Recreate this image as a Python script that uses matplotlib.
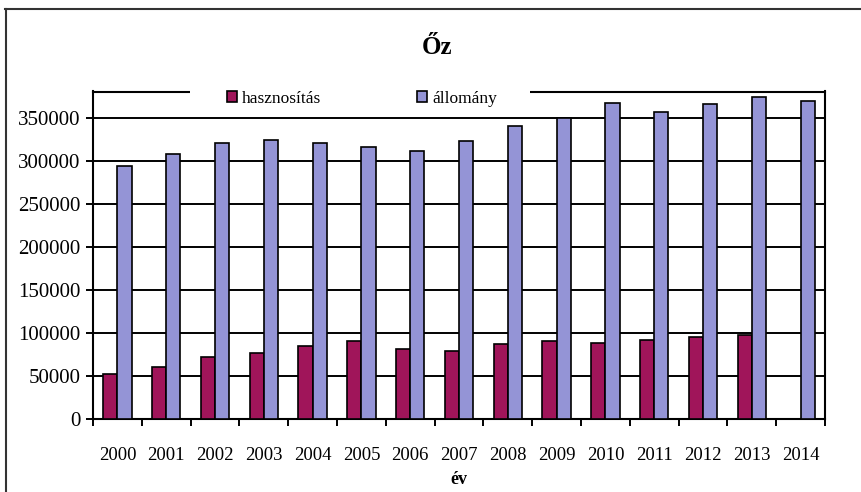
import matplotlib
matplotlib.use("Agg")
import matplotlib.pyplot as plt
import numpy as np
from matplotlib.lines import Line2D
from matplotlib.patches import Rectangle

years = ["2000", "2001", "2002", "2003", "2004", "2005", "2006", "2007",
         "2008", "2009", "2010", "2011", "2012", "2013", "2014"]
hasznositas = [52000, 61000, 72500, 76500, 85000, 90500, 81500, 79500,
               87000, 90500, 88500, 92000, 95500, 98000, None]
allomany = [294000, 308000, 321000, 325000, 321000, 317000, 312000, 323000,
            341000, 350000, 368000, 357000, 366000, 375000, 370000]
yticks = [0, 50000, 100000, 150000, 200000, 250000, 300000, 350000]
series_names = ["hasznosítás", "állomány"]
title = "Őz"
xlabel = "év"

c_h = "#A0155A"
c_a = "#9494D6"
serif = ["Liberation Serif", "DejaVu Serif"]

fig = plt.figure(figsize=(8.61, 4.92), dpi=100)
fig.patch.set_facecolor("white")
ax = fig.add_axes([93/861, 1-419/492, (825-93)/861, (419-91.5)/492])

x = np.arange(len(years))
w = 0.29
hx = [xi - w/2 for xi, v in zip(x, hasznositas) if v is not None]
hv = [v for v in hasznositas if v is not None]
ax.bar(hx, hv, width=w, color=c_h, edgecolor="black", linewidth=1.2, zorder=3, label=series_names[0])
ax.bar(x + w/2, allomany, width=w, color=c_a, edgecolor="black", linewidth=1.2, zorder=3, label=series_names[1])

ax.set_xlim(-0.5, len(years) - 0.5)
ax.set_ylim(0, 381000)
ax.set_yticks(yticks)
ax.set_yticklabels([str(v) for v in yticks], fontfamily=serif, fontsize=15)
ax.yaxis.grid(True, color="black", linewidth=1.4, zorder=0)
ax.set_axisbelow(True)

ax.set_xticks(x)
ax.set_xticklabels(years, fontfamily=serif, fontsize=13.5)
ax.tick_params(axis="x", which="major", length=0, pad=20)
ax.set_xticks(np.arange(-0.5, len(years), 1.0), minor=True)
ax.tick_params(axis="x", which="minor", length=5, width=1.4, direction="out")
ax.tick_params(axis="y", length=5, width=1.4, direction="out", pad=4)

for s in ax.spines.values():
    s.set_linewidth(1.5)
    s.set_color("black")

ax.set_xlabel(xlabel, fontfamily=serif, fontsize=13, fontweight="bold", labelpad=5)
fig.text(0.5075, 1-47/492, title, ha="center", va="center", fontfamily=serif,
         fontsize=18, fontweight="bold")

# white legend area hiding the top frame
fig.add_artist(Rectangle((190/861, 1-114/492), (530-190)/861, (114-80)/492,
                         transform=fig.transFigure, facecolor="white", edgecolor="none", zorder=4))

handles, labels = ax.get_legend_handles_labels()
leg = fig.legend(handles, labels, loc="center", bbox_to_anchor=(362/861, 1-99/492),
                 ncol=2, frameon=False, handlelength=0.6, handleheight=0.6,
                 columnspacing=5.5, handletextpad=0.3, borderpad=0.3,
                 prop={"family": serif, "size": 12.5})
leg.set_zorder(6)

# outer frame
fig.add_artist(Line2D([5/861, 1.0], [1-9/492, 1-9/492], transform=fig.transFigure, color="#333333", linewidth=1.5))
fig.add_artist(Line2D([6/861, 6/861], [0.0, 1-9/492], transform=fig.transFigure, color="#333333", linewidth=1.5))

fig.savefig("out.png", dpi=100, facecolor="white")
